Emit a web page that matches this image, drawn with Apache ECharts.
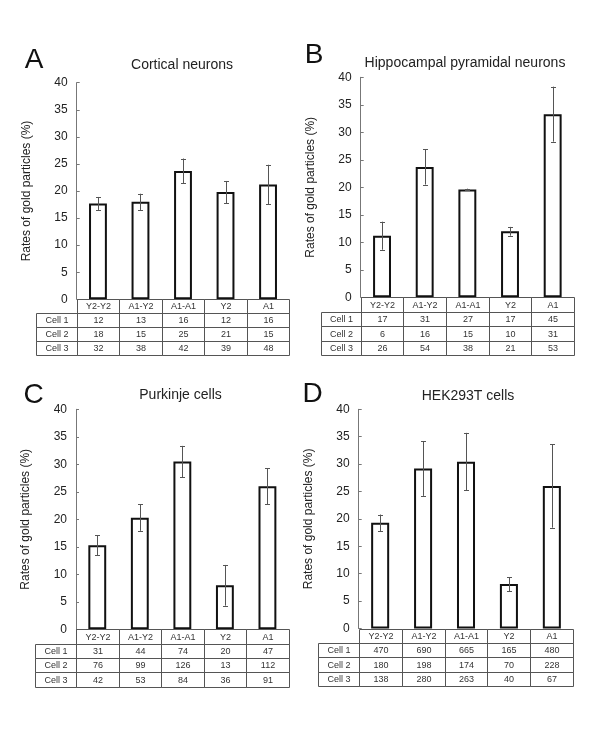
<!DOCTYPE html>
<html><head><meta charset="utf-8">
<script src="https://cdn.jsdelivr.net/npm/echarts@6/dist/echarts.min.js"></script>
<style>html,body{margin:0;padding:0;background:#fff}#c{width:600px;height:734px}</style>
</head><body><div id="c"></div>
<script>
// ---- data ----
const categories = ['Y2-Y2', 'A1-Y2', 'A1-A1', 'Y2', 'A1'];
const rowLabels = ['Cell 1', 'Cell 2', 'Cell 3'];
const panelLetters = ['A', 'B', 'C', 'D'];
const panelTitles = ['Cortical neurons', 'Hippocampal pyramidal neurons', 'Purkinje cells', 'HEK293T cells'];
const yAxisName = 'Rates of gold particles (%)';
const yMin = 0, yMax = 40, yStep = 5;

const meanA = [17.7, 18.0, 23.7, 19.8, 21.2];
const errA = [1.2, 1.5, 2.3, 2.05, 3.65];
const cell1A = [12, 13, 16, 12, 16];
const cell2A = [18, 15, 25, 21, 15];
const cell3A = [32, 38, 42, 39, 48];

const meanB = [11.2, 23.7, 19.6, 12.0, 33.3];
const errB = [2.55, 3.2, 0.15, 0.8, 5.0];
const cell1B = [17, 31, 27, 17, 45];
const cell2B = [6, 16, 15, 10, 31];
const cell3B = [26, 54, 38, 21, 53];

const meanC = [15.3, 20.3, 30.5, 8.0, 26.0];
const errC = [1.8, 2.4, 2.85, 3.7, 3.3];
const cell1C = [31, 44, 74, 20, 47];
const cell2C = [76, 99, 126, 13, 112];
const cell3C = [42, 53, 84, 36, 91];

const meanD = [19.3, 29.2, 30.45, 8.1, 26.0];
const errD = [1.5, 5.0, 5.25, 1.25, 7.6];
const cell1D = [470, 690, 665, 165, 480];
const cell2D = [180, 198, 174, 70, 228];
const cell3D = [138, 280, 263, 40, 67];

const panelData = [
  {mean: meanA, err: errA, cells: [cell1A, cell2A, cell3A]},
  {mean: meanB, err: errB, cells: [cell1B, cell2B, cell3B]},
  {mean: meanC, err: errC, cells: [cell1C, cell2C, cell3C]},
  {mean: meanD, err: errD, cells: [cell1D, cell2D, cell3D]}
];

// ---- layout (pixels) ----
const layout = [
  {ax: 76.7, top: 82.7, zero: 299.3, right: 289.3, tblLeft: 36, tblBottom: 355, titleX: 182, titleY: 58, letX: 34, letY: 46, nameGap: 44},
  {ax: 360.7, top: 77.3, zero: 297.3, right: 574, tblLeft: 320.7, tblBottom: 355, titleX: 465, titleY: 56, letX: 314, letY: 41, nameGap: 44},
  {ax: 76, top: 409.3, zero: 629.3, right: 288.7, tblLeft: 35, tblBottom: 686.7, titleX: 180.5, titleY: 388.5, letX: 33.5, letY: 381, nameGap: 44},
  {ax: 358.7, top: 409.3, zero: 628.5, right: 573.3, tblLeft: 318.3, tblBottom: 686, titleX: 468, titleY: 389, letX: 312.5, letY: 380, nameGap: 44}
];

const FONT = '"Liberation Sans", Arial, sans-serif';
const crisp = v => Math.round(v) + 0.5;

const grid = [], xAxis = [], yAxis = [], series = [], title = [];

layout.forEach((L, p) => {
  const D = panelData[p];
  const colW = (L.right - L.ax) / 5;
  const labelW = (L.ax - L.tblLeft) / colW;
  const gBar = grid.length;
  grid.push({left: L.ax, top: L.top, width: L.right - L.ax, height: L.zero - L.top});
  grid.push({left: L.tblLeft, top: L.zero, width: L.right - L.tblLeft, height: L.tblBottom - L.zero});

  xAxis.push({gridIndex: gBar, type: 'category', data: categories, axisLine: {show: false}, axisTick: {show: false}, axisLabel: {show: false}});
  yAxis.push({gridIndex: gBar, type: 'value', min: yMin, max: yMax, interval: yStep,
    name: yAxisName, nameLocation: 'middle', nameGap: L.nameGap,
    nameTextStyle: {fontFamily: FONT, fontSize: 12, color: '#222'},
    axisLine: {show: true, lineStyle: {color: '#777', width: 1}},
    axisTick: {show: true, inside: true, length: 3, lineStyle: {color: '#777'}},
    axisLabel: {fontFamily: FONT, fontSize: 12, color: '#222', margin: 9},
    splitLine: {show: false}});

  xAxis.push({gridIndex: gBar + 1, type: 'value', min: -0.5 - labelW, max: 4.5, show: false});
  yAxis.push({gridIndex: gBar + 1, type: 'value', min: -0.5, max: 3.5, inverse: true, show: false});

  series.push({type: 'bar', xAxisIndex: gBar, yAxisIndex: gBar, data: D.mean, barWidth: '42%',
    itemStyle: {color: '#fff', borderColor: '#111', borderWidth: 2}, silent: true, z: 2});

  series.push({type: 'custom', xAxisIndex: gBar, yAxisIndex: gBar, z: 5, silent: true,
    data: D.mean.map((m, i) => [i, m, D.err[i]]),
    renderItem: (params, api) => {
      const x = api.value(0), m = api.value(1), e = api.value(2);
      const hi = api.coord([x, m + e]), lo = api.coord([x, m - e]);
      const cx = crisp(hi[0]), c = 2.5;
      const st = {stroke: '#555', lineWidth: 1};
      return {type: 'group', children: [
        {type: 'line', shape: {x1: cx, y1: hi[1], x2: cx, y2: lo[1]}, style: st},
        {type: 'line', shape: {x1: cx - c, y1: crisp(hi[1]), x2: cx + c, y2: crisp(hi[1])}, style: st},
        {type: 'line', shape: {x1: cx - c, y1: crisp(lo[1]), x2: cx + c, y2: crisp(lo[1])}, style: st}
      ]};
    }});

  // table cells
  const cellPos = [], cellText = [];
  categories.forEach((c, i) => { cellPos.push([i, 0]); cellText.push(c); });
  rowLabels.forEach((r, j) => {
    cellPos.push([-1, j + 1]); cellText.push(r);
    D.cells[j].forEach((v, i) => { cellPos.push([i, j + 1]); cellText.push(String(v)); });
  });
  series.push({type: 'custom', xAxisIndex: gBar + 1, yAxisIndex: gBar + 1, silent: true, z: 3,
    data: cellPos,
    renderItem: (params, api) => {
      const col = api.value(0), row = api.value(1);
      const x0 = col < 0 ? -0.5 - labelW : col - 0.5;
      const x1 = col < 0 ? -0.5 : col + 0.5;
      const a = api.coord([x0, row - 0.5]), b = api.coord([x1, row + 0.5]);
      const left = crisp(Math.min(a[0], b[0])), right = crisp(Math.max(a[0], b[0]));
      const top = crisp(Math.min(a[1], b[1])), bottom = crisp(Math.max(a[1], b[1]));
      return {type: 'group', children: [
        {type: 'rect', shape: {x: left, y: top, width: right - left, height: bottom - top},
          style: {fill: null, stroke: '#555', lineWidth: 1}},
        {type: 'text', style: {text: cellText[params.dataIndex], x: (left + right) / 2, y: (top + bottom) / 2 + 0.5,
          align: 'center', verticalAlign: 'middle', font: '9px ' + FONT, fill: '#333'}}
      ]};
    }});

  title.push({text: panelLetters[p], left: L.letX, top: L.letY, textAlign: 'center', padding: 0,
    textStyle: {fontFamily: FONT, fontSize: 28, fontWeight: 'normal', color: '#111'}});
  title.push({text: panelTitles[p], left: L.titleX, top: L.titleY, textAlign: 'center', padding: 0,
    textStyle: {fontFamily: FONT, fontSize: 14, fontWeight: 'normal', color: '#222'}});
});

const chart = echarts.init(document.getElementById('c'), null, {renderer: 'canvas'});
chart.setOption({backgroundColor: '#fff', animation: false, title, grid, xAxis, yAxis, series});
</script></body></html>
